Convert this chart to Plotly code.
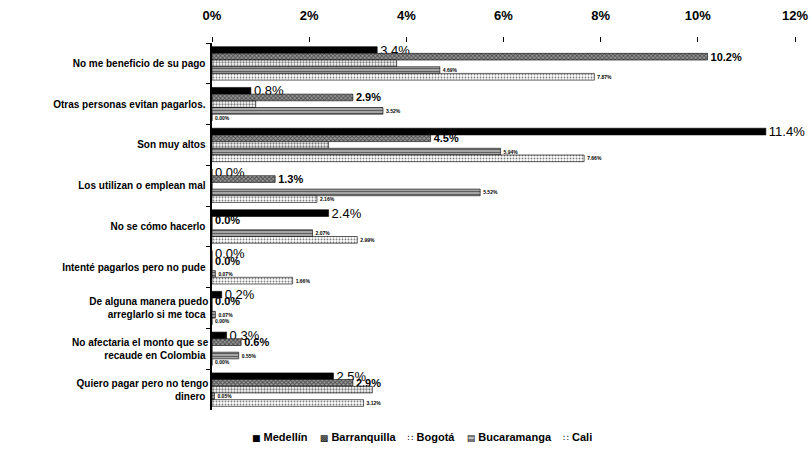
import plotly.graph_objects as go

categories = [
    "No me beneficio de su pago",
    "Otras personas evitan pagarlos.",
    "Son muy altos",
    "Los utilizan o emplean mal",
    "No se cómo hacerlo",
    "Intenté pagarlos pero no pude",
    "De alguna manera puedo<br>arreglarlo si me toca",
    "No afectaria el monto que se<br>recaude en Colombia",
    "Quiero pagar pero no tengo<br>dinero",
]

medellin = [3.4, 0.8, 11.4, 0.0, 2.4, 0.0, 0.2, 0.3, 2.5]
barranquilla = [10.2, 2.9, 4.5, 1.3, 0.0, 0.0, 0.0, 0.6, 2.9]
bogota = [3.8, 0.9, 2.4, 0.0, 0.0, 0.0, 0.0, 0.0, 3.3]
bucaramanga = [4.69, 3.52, 5.94, 5.52, 2.07, 0.07, 0.07, 0.55, 0.05]
cali = [7.87, 0.00, 7.66, 2.16, 2.99, 1.66, 0.00, 0.00, 3.12]

tick_vals = [0, 2, 4, 6, 8, 10, 12]
tick_text = ["0%", "2%", "4%", "6%", "8%", "10%", "12%"]

FONT = "Liberation Sans, Arial, sans-serif"
GLYPH_FONT = "DejaVu Sans"

series = [
    # name, values, label format, label size, label weight, pattern, legend glyph
    ("Medellín", medellin, "{:.1f}%", 13, "normal",
     dict(shape="", fgcolor="black", bgcolor="black"), "■"),
    ("Barranquilla", barranquilla, "{:.1f}%", 11, "bold",
     dict(shape="x", fgcolor="black", bgcolor="#9a9a9a", size=3, solidity=0.5), "▩"),
    ("Bogotá", bogota, None, 0, "bold",
     dict(shape=".", fgcolor="black", bgcolor="white", size=3, solidity=0.45), "∷"),
    ("Bucaramanga", bucaramanga, "{:.2f}%", 5, "bold",
     dict(shape="-", fgcolor="black", bgcolor="#bdbdbd", size=3, solidity=0.5), "▤"),
    ("Cali", cali, "{:.2f}%", 5, "bold",
     dict(shape=".", fgcolor="black", bgcolor="white", size=3, solidity=0.3), "∷"),
]

fig = go.Figure()
legend_parts = []
for name, vals, fmt, size, weight, pattern, glyph in series:
    texts = [fmt.format(v) for v in vals] if fmt else None
    fig.add_trace(go.Bar(
        name=name,
        y=categories,
        x=vals,
        orientation="h",
        marker=dict(color="white" if pattern["shape"] else "black",
                    pattern=pattern,
                    line=dict(color="black", width=0.6)),
        text=texts,
        textposition="outside" if fmt else "none",
        textfont=dict(family=FONT, size=size if size else 10,
                      color="black", weight=weight),
        constraintext="none",
        cliponaxis=False,
        showlegend=False,
        hoverinfo="x+y+name",
    ))
    legend_parts.append(
        f'<span style="font-family:{GLYPH_FONT};font-weight:normal;font-size:9px">{glyph}</span> {name}'
    )

# compact one-line legend under the plot
fig.add_annotation(
    text="\u00a0\u00a0\u00a0\u00a0".join(legend_parts),
    xref="paper", yref="paper",
    x=0.36, y=-0.074,
    xanchor="center", yanchor="middle",
    showarrow=False,
    font=dict(family=FONT, size=11, color="black", weight="bold"),
)

fig.update_layout(
    width=811,
    height=452,
    barmode="group",
    bargap=0.18,
    bargroupgap=0.0,
    paper_bgcolor="white",
    plot_bgcolor="white",
    font=dict(family=FONT, color="black", size=10),
    margin=dict(l=212, r=16, t=43, b=42),
    showlegend=False,
)

fig.update_xaxes(
    side="top",
    range=[0, 12],
    tickvals=tick_vals,
    ticktext=tick_text,
    tickfont=dict(family=FONT, size=13, weight="bold"),
    ticks="outside",
    ticklen=5,
    tickcolor="black",
    ticklabelstandoff=12,
    automargin=False,
    showgrid=False,
    zeroline=False,
    showline=False,
)

fig.update_yaxes(
    autorange="reversed",
    tickson="boundaries",
    ticks="outside",
    ticklen=4,
    tickcolor="black",
    tickfont=dict(family=FONT, size=10, weight="bold"),
    automargin=False,
    showline=True,
    linecolor="black",
    linewidth=1.5,
    showgrid=False,
    ticksuffix=" ",
)

fig.write_html("out.html")
